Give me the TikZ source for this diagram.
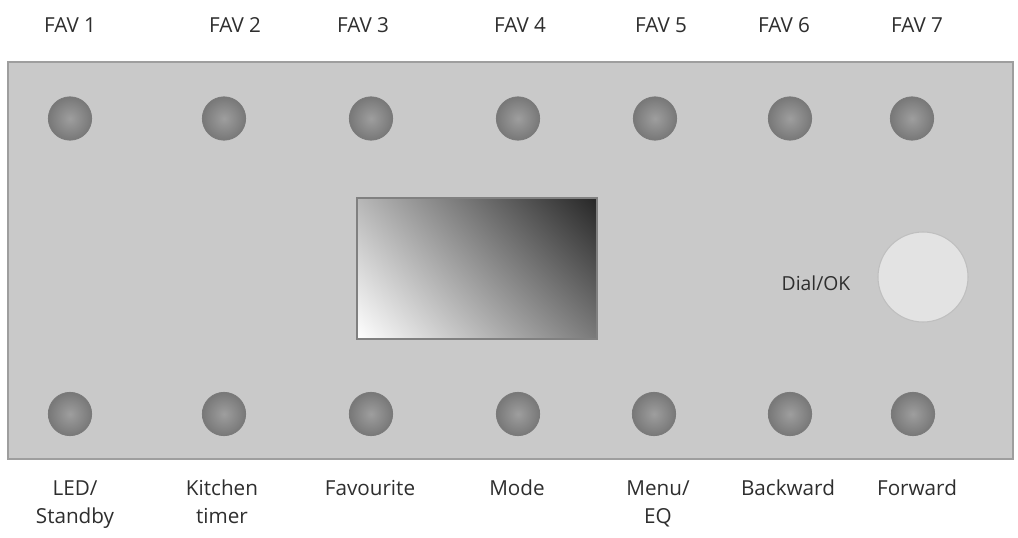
\documentclass[tikz,border=0pt]{standalone}
\usepackage{fontspec}
\setmainfont{Open Sans}
\usetikzlibrary{shadings}
\begin{document}
\begin{tikzpicture}[x=0.75pt,y=0.75pt,
  lbl/.style={text=black!82,font=\fontsize{15.5}{21}\selectfont,align=center,inner sep=0pt},
  btn/.style={circle,minimum size=32.5pt,inner sep=0pt,draw=black!52,line width=0.6pt,
    inner color=black!38,outer color=black!53},
  panel/.style={draw=black!38,line width=1.5pt,fill=black!21}]
\useasboundingbox (0,0) rectangle (1018,537);
\fill[white] (0,0) rectangle (1018,537);
\node[panel,minimum width=754pt,minimum height=298pt,inner sep=0pt] (panel) at (510.5,276.5) {};
% screen
\node[draw=black!50,line width=1pt,minimum width=180pt,minimum height=105.75pt,inner sep=0pt,
  shade,lower left=white,upper right=black!85,upper left=black!28,lower right=black!52] (screen) at (477,268.5) {};
% dial
\node[circle,minimum size=67.5pt,inner sep=0pt,fill=black!11,draw=black!25,line width=0.8pt] (dial) at (923,260) {};
\node[lbl,font=\fontsize{14.5}{18}\selectfont] (diallbl) at (816,254) {Dial/OK};
% top buttons
\foreach \n/\x in {1/70,2/224,3/371,4/518,5/655,6/790,7/912}{
  \node[btn] (t\n) at (\x,418.5) {};
}
% bottom buttons
\foreach \n/\x in {1/70,2/224,3/371,4/518,5/654,6/790,7/913}{
  \node[btn] (b\n) at (\x,123) {};
}
% top labels
\foreach \n/\x in {1/70,2/235,3/363,4/520,5/661,6/784,7/917}{
  \node[lbl,anchor=base] (f\n) at (\x,504) {FAV \n};
}
% bottom labels
\node[lbl,anchor=base] (l1) at (75,14) {LED/\\Standby};
\node[lbl,anchor=base] (l2) at (222,14) {Kitchen\\timer};
\node[lbl,anchor=base] (l3) at (370,42) {Favourite};
\node[lbl,anchor=base] (l4) at (517,42) {Mode};
\node[lbl,anchor=base] (l5) at (658,14) {Menu/\\EQ};
\node[lbl,anchor=base] (l6) at (788,42) {Backward};
\node[lbl,anchor=base] (l7) at (917,42) {Forward};
\end{tikzpicture}
\end{document}
